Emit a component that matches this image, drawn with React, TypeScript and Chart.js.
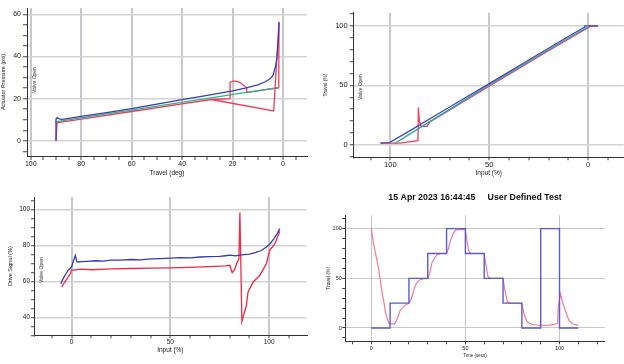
import React, { useEffect, useRef } from 'react';
import { Chart, registerables } from 'chart.js';
Chart.register(...registerables);

// ---------- Chart 1: Actuator Pressure vs Travel ----------
const c1BlueX = [90, 90, 89.5, 88.8, 87.5, 80, 70, 60, 50, 40, 30, 20, 15, 10, 7, 5, 4, 3, 2.5, 2.1, 1.8, 1.6];
const c1BlueY = [0, 10.5, 11, 10.4, 10.2, 11.6, 13.4, 15.3, 17.4, 19.5, 21.6, 23.7, 25, 26.5, 28, 29.5, 31, 35, 39, 44, 50, 56.5];
const c1GreenX = [90.4, 1.6];
const c1GreenY = [9.0, 25.3];
const c1RedX = [90, 89.6, 88.5, 80, 60, 40, 28.4, 21, 21, 19.5, 17.5, 14.5, 14.4, 8, 1.7, 1.6, 3.7, 28.4];
const c1RedY = [0, 8.5, 8.8, 10.3, 13.9, 17.5, 19.6, 20.0, 27.7, 28.4, 28.0, 25.3, 22.9, 24.0, 25.1, 56, 14.2, 19.6];

// ---------- Chart 2: Travel vs Input ----------
const c2BlueX = [105, 100.5, 100, 90, 70, 50, 30, 10, 1.8, 1.7, -5];
const c2BlueY = [1.5, 2, 2.3, 12, 31.8, 51.5, 71.3, 91, 98.8, 100, 100];
const c2TealX = [98, 90, 50, 10, 0];
const c2TealY = [1, 9.3, 50.4, 89.8, 99];
const c2RedX = [105, 95, 86, 85.8, 85.3, 84.5, 81.5, 80, 50, 20, 0, -1, -5];
const c2RedY = [1.5, 1.5, 3.6, 31.5, 20, 15.5, 15.5, 19.2, 49.3, 79, 98.3, 99.5, 99.8];

// ---------- Chart 3: Drive Signal vs Input ----------
const c3BlueX = [-5.4, -4.5, -3, -1.5, 0, 1, 1.9, 2.7, 3.5, 5, 8, 12, 16, 20, 25, 30, 35, 40, 45, 50, 55, 60, 65, 70, 75, 78, 80, 83, 86, 90, 93, 96, 98.5, 100.5, 102.5, 104, 105.4];
const c3BlueY = [58.7, 61, 64, 66.5, 68, 71.5, 74.4, 71, 70.8, 71.0, 71.2, 71.5, 71.3, 71.8, 71.9, 72.2, 72.0, 72.5, 72.7, 73.0, 73.2, 73.1, 73.6, 73.8, 73.9, 74.3, 74.6, 74.2, 74.8, 75.2, 76, 77.2, 79.0, 81, 84, 86.5, 89.4];
const c3RedX = [-5, -3.5, -2, -0.5, 0, 1, 5, 10, 20, 30, 40, 50, 60, 70, 78, 80.1, 81.3, 82.6, 83.8, 84.7, 85.2, 86.2, 87, 88.5, 89.3, 91.9, 95.3, 98.6, 100.3, 102.9, 105.4];
const c3RedY = [57, 59.5, 62, 64.5, 66.4, 66.3, 66.8, 66.5, 67, 67.2, 67.4, 67.5, 67.8, 68.2, 68.6, 69, 64.9, 66.7, 70.8, 72.3, 98.3, 37.7, 41, 46.7, 54, 59.7, 63.4, 69.9, 77.3, 81, 87.9];

// ---------- Chart 4: Travel vs Time ----------
const c4Title = '15 Apr 2023 16:44:45     User Defined Test';
const c4BlueX = [0, 10, 10, 20, 20, 30, 30, 40, 40, 50, 50, 60, 60, 70, 70, 80, 80, 90, 90, 100, 100, 110];
const c4BlueY = [0, 0, 25, 25, 50, 50, 75, 75, 100, 100, 75, 75, 50, 50, 25, 25, 0, 0, 100, 100, 0, 0];
const c4RedX = [0, 1.2, 3.9, 5.7, 6.6, 7.4, 8.5, 9.6, 12.4, 14, 15.4, 18, 20, 21, 22, 23.4, 24.5, 26, 28, 30, 31, 32.3, 33.5, 35, 37, 40, 41, 42, 43.5, 44.7, 46, 50, 50.8, 51.8, 53, 60, 60.8, 62, 63.5, 70, 70.8, 72.3, 74, 80, 81, 82.8, 85.5, 90, 95, 99, 99.3, 100.5, 101.5, 103, 105, 107, 110];
const c4RedY = [100, 85, 59.7, 36, 27, 17.8, 9, 4.2, 4.2, 10, 18, 23, 25, 28, 34, 42.6, 46.5, 48.7, 49.7, 50, 55, 66, 70, 73.8, 75, 75, 80, 88, 95, 98.3, 99, 99, 88, 77, 75, 75, 65, 51.7, 50, 50, 40, 26, 25, 24.5, 15, 6, 3.5, 2.5, 2.8, 4.4, 21, 34.6, 27, 17.8, 7.7, 4, 2.7];

const FONT = '"Liberation Sans", Arial, Helvetica, sans-serif';

function pts(xs: number[], ys: number[]) {
  return xs.map((x, i) => ({ x, y: ys[i] }));
}

function isMajor(v: number, major: number) {
  const r = Math.round(v);
  return Math.abs(v - r) < 1e-6 && r % major === 0;
}

function line(label: string, xs: number[], ys: number[], color: string, width: number) {
  return {
    label,
    data: pts(xs, ys),
    showLine: true,
    borderColor: color,
    backgroundColor: color,
    borderWidth: width,
    pointRadius: 0,
    tension: 0,
    fill: false,
  };
}

type AxisOpts = {
  horizontal: boolean;
  size: number;
  min: number;
  max: number;
  reverse?: boolean;
  step: number;
  major: number;
  tickFont: number;
  tickPad: number;
  tickLen: number;
  title: string;
  titleFont: number;
  titlePad: number;
  gridColor: string;
  gridWidth: number;
};

function axis(o: AxisOpts) {
  return {
    type: 'linear',
    position: o.horizontal ? 'bottom' : 'left',
    min: o.min,
    max: o.max,
    reverse: !!o.reverse,
    afterFit: (s: any) => {
      if (o.horizontal) s.height = o.size;
      else s.width = o.size;
    },
    ticks: {
      stepSize: o.step,
      autoSkip: false,
      maxRotation: 0,
      minRotation: 0,
      includeBounds: false,
      padding: o.tickPad,
      color: '#222',
      font: { family: FONT, size: o.tickFont },
      callback: (v: any) => (isMajor(Number(v), o.major) ? String(Math.round(Number(v))) : ''),
    },
    grid: {
      color: (c: any) => (c.tick && isMajor(c.tick.value, o.major) ? o.gridColor : 'rgba(0,0,0,0)'),
      lineWidth: o.gridWidth,
      tickColor: '#444',
      tickLength: o.tickLen,
      tickWidth: 1,
      drawTicks: true,
    },
    border: { display: true, color: '#333', width: 1 },
    title: {
      display: true,
      text: o.title,
      color: '#222',
      font: { family: FONT, size: o.titleFont, lineHeight: 1.2 },
      padding: o.horizontal ? { top: 0, bottom: o.titlePad } : { top: o.titlePad, bottom: 0 },
    },
  };
}

const valveOpenPlugin = {
  id: 'valveOpen',
  afterDraw(chart: any, _args: any, opts: any) {
    if (!opts || !opts.show) return;
    const { ctx, chartArea } = chart;
    ctx.save();
    ctx.translate(chartArea.left + opts.dx, (chartArea.top + chartArea.bottom) / 2 + (opts.dy || 0));
    ctx.rotate(-Math.PI / 2);
    ctx.font = `5px ${FONT}`;
    ctx.fillStyle = '#333';
    ctx.textAlign = 'center';
    ctx.textBaseline = 'middle';
    ctx.fillText('Valve Open', 0, 0);
    ctx.restore();
  },
};

const VGRID = '#c5c9ce';
const HGRID = '#d3d3d3';

function baseOptions(padding: any, x: any, y: any, plugins: any) {
  return {
    responsive: false,
    animation: false,
    events: [],
    layout: { padding },
    scales: { x, y },
    plugins: {
      legend: { display: false },
      tooltip: { enabled: false },
      ...plugins,
    },
  };
}

function config1() {
  return {
    type: 'scatter',
    data: {
      datasets: [
        line('Blue', c1BlueX, c1BlueY, '#3c3cb4', 1.3),
        line('Green', c1GreenX, c1GreenY, '#2fb38a', 1.3),
        line('Red', c1RedX, c1RedY, '#f03c5a', 1.3),
      ],
    },
    options: baseOptions(
      { left: 0, top: 8, right: 5, bottom: 0 },
      axis({ horizontal: true, size: 26, min: -9.5, max: 101.5, reverse: true, step: 5, major: 20, tickFont: 7, tickPad: 0, tickLen: 4, title: 'Travel (deg)', titleFont: 6.5, titlePad: 5.1, gridColor: VGRID, gridWidth: 2 }),
      axis({ horizontal: false, size: 27, min: -7.2, max: 63, step: 5, major: 20, tickFont: 7, tickPad: 2, tickLen: 4, title: 'Actuator Pressure (psi)', titleFont: 5.5, titlePad: 0, gridColor: HGRID, gridWidth: 1.5 }),
      { valveOpen: { show: true, dx: 8, dy: -2 } }
    ),
    plugins: [valveOpenPlugin],
  };
}

function config2() {
  return {
    type: 'scatter',
    data: {
      datasets: [
        line('Blue', c2BlueX, c2BlueY, '#4646be', 1.3),
        line('Teal', c2TealX, c2TealY, '#2aa8a0', 1.3),
        line('Red', c2RedX, c2RedY, '#f04060', 1.3),
      ],
    },
    options: baseOptions(
      { left: 0, top: 12.7, right: 0.3, bottom: 0 },
      axis({ horizontal: true, size: 24.7, min: -18, max: 118.5, reverse: true, step: 10, major: 50, tickFont: 7.5, tickPad: 0, tickLen: 3, title: 'Input (%)', titleFont: 6.5, titlePad: 4.8, gridColor: VGRID, gridWidth: 2 }),
      axis({ horizontal: false, size: 41.7, min: -10.4, max: 111, step: 10, major: 50, tickFont: 7.5, tickPad: 2, tickLen: 4, title: 'Travel (%)', titleFont: 5, titlePad: 10.3, gridColor: HGRID, gridWidth: 1.5 }),
      { valveOpen: { show: true, dx: 6.6, dy: 2 } }
    ),
    plugins: [valveOpenPlugin],
  };
}

function config3() {
  return {
    type: 'scatter',
    data: {
      datasets: [
        line('Blue', c3BlueX, c3BlueY, '#3a3ab0', 1.3),
        line('Red', c3RedX, c3RedY, '#f02a44', 1.3),
      ],
    },
    options: baseOptions(
      { left: 0, top: 15, right: 5.3, bottom: 0 },
      axis({ horizontal: true, size: 28.7, min: -19, max: 119, step: 10, major: 50, tickFont: 6.5, tickPad: 0, tickLen: 3, title: 'Input (%)', titleFont: 6.5, titlePad: 9.8, gridColor: VGRID, gridWidth: 2 }),
      axis({ horizontal: false, size: 34, min: 30, max: 107, step: 5, major: 20, tickFont: 6.5, tickPad: 1, tickLen: 3, title: 'Drive Signal (%)', titleFont: 5.5, titlePad: 6.7, gridColor: HGRID, gridWidth: 1.5 }),
      { valveOpen: { show: true, dx: 7.7, dy: 4 } }
    ),
    plugins: [valveOpenPlugin],
  };
}

function config4() {
  return {
    type: 'scatter',
    data: {
      datasets: [
        line('Blue', c4BlueX, c4BlueY, '#5a5ad2', 1.4),
        line('Red', c4RedX, c4RedY, '#f27a92', 1.2),
      ],
    },
    options: baseOptions(
      { left: 0, top: 0, right: 19.3, bottom: 0 },
      axis({ horizontal: true, size: 22.7, min: -13.8, max: 124, step: 10, major: 50, tickFont: 5.5, tickPad: 1, tickLen: 3, title: 'Time (secs)', titleFont: 4.5, titlePad: 5.3, gridColor: '#c4c4c4', gridWidth: 1 }),
      axis({ horizontal: false, size: 33.3, min: -13.4, max: 113.5, step: 10, major: 50, tickFont: 5.5, tickPad: 0.5, tickLen: 3, title: 'Travel (%)', titleFont: 5, titlePad: 13.7, gridColor: '#c8c8c8', gridWidth: 1 }),
      {
        title: {
          display: true,
          text: c4Title,
          fullSize: false,
          color: '#111',
          font: { family: FONT, size: 8.8, weight: 'bold', lineHeight: 1.2 },
          padding: { top: 10.7, bottom: 12 },
        },
      }
    ),
  };
}

function ChartBox({ left, top, make }: { left: number; top: number; make: () => any }) {
  const ref = useRef<HTMLCanvasElement | null>(null);
  useEffect(() => {
    if (!ref.current) return;
    const chart = new Chart(ref.current, make());
    return () => chart.destroy();
  }, []);
  return (
    <canvas
      ref={ref}
      width={312}
      height={182}
      style={{ position: 'absolute', left, top, width: 312, height: 182, display: 'block' }}
    />
  );
}

export default function App() {
  return (
    <div style={{ position: 'absolute', left: 0, top: 0, width: 624, height: 364, background: '#fff', overflow: 'hidden' }}>
      <ChartBox left={0} top={0} make={config1} />
      <ChartBox left={312} top={0} make={config2} />
      <ChartBox left={0} top={182} make={config3} />
      <ChartBox left={312} top={182} make={config4} />
    </div>
  );
}
